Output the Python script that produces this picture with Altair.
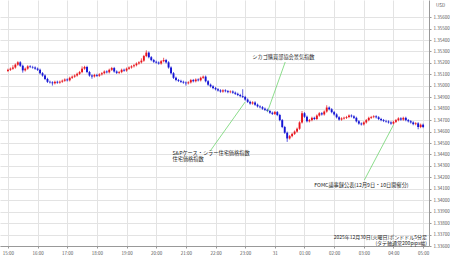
import altair as alt
import pandas as pd

# ---------------- data ----------------
hour_ticks = list(range(0, 15))          # hours after 15:00 (2025-12-30)
y_ticks = [round(1.336 + 0.001 * k, 3) for k in range(0, 21)]

open0 = 1.35130
closes = [
    1.35140, 1.35150, 1.35160, 1.35185, 1.35205, 1.35175, 1.35135, 1.35150, 1.35170, 1.35165,
    1.35160, 1.35150, 1.35140, 1.35110, 1.35090, 1.35060, 1.35035, 1.35030, 1.35022, 1.35035,
    1.35028, 1.35036, 1.35045, 1.35055, 1.35048, 1.35070, 1.35080, 1.35090, 1.35105, 1.35120,
    1.35150, 1.35165, 1.35120, 1.35090, 1.35082, 1.35095, 1.35088, 1.35100, 1.35110, 1.35125,
    1.35118, 1.35140, 1.35155, 1.35125, 1.35113, 1.35120, 1.35140, 1.35133, 1.35150, 1.35160,
    1.35170, 1.35180, 1.35195, 1.35205, 1.35220, 1.35260, 1.35290, 1.35250, 1.35225, 1.35210,
    1.35203, 1.35195, 1.35215, 1.35225, 1.35205, 1.35160, 1.35110, 1.35070, 1.35050, 1.35043,
    1.35035, 1.35028, 1.35022, 1.35030, 1.35050, 1.35040, 1.35055, 1.35048, 1.35070, 1.35080,
    1.35040, 1.35010, 1.34995, 1.34980, 1.34970, 1.34960, 1.34950, 1.34960, 1.34953, 1.34945,
    1.34950, 1.34940, 1.34930, 1.34920, 1.34910, 1.34903, 1.34880, 1.34860, 1.34845, 1.34855,
    1.34835, 1.34820, 1.34813, 1.34800, 1.34790, 1.34780, 1.34765, 1.34755, 1.34770, 1.34745,
    1.34700, 1.34640, 1.34590, 1.34540, 1.34560, 1.34580, 1.34600, 1.34625, 1.34680, 1.34760,
    1.34730, 1.34690, 1.34700, 1.34720, 1.34710, 1.34740, 1.34760, 1.34750, 1.34775, 1.34810,
    1.34795, 1.34770, 1.34750, 1.34725, 1.34705, 1.34715, 1.34720, 1.34727, 1.34740, 1.34733,
    1.34720, 1.34690, 1.34670, 1.34663, 1.34680, 1.34700, 1.34720, 1.34727, 1.34733, 1.34725,
    1.34710, 1.34700, 1.34693, 1.34688, 1.34680, 1.34670, 1.34685, 1.34700, 1.34715, 1.34705,
    1.34720, 1.34700, 1.34690, 1.34680, 1.34665, 1.34672, 1.34640, 1.34660, 1.34640,
]
wick_up = [
    1, 1, 2, 1, 1, 1, 1, 1, 1, 1,
    1, 1, 1, 1, 1, 1, 1, 1, 1, 1,
    1, 1, 1, 1, 1, 1, 1, 1, 1, 1,
    2, 1, 1, 1, 1, 1, 1, 1, 1, 1,
    1, 1, 1, 1, 1, 1, 1, 1, 1, 1,
    1, 1, 1, 1, 2, 1, 2, 1, 1, 1,
    1, 1, 1, 2, 1, 1, 1, 1, 1, 1,
    1, 1, 1, 1, 1, 1, 1, 1, 1, 1,
    1, 1, 1, 1, 1, 1, 1, 1, 1, 1,
    1, 1, 1, 1, 1, 6, 1, 1, 1, 1,
    1, 1, 1, 1, 1, 1, 1, 1, 1, 1,
    1, 1, 1, 1, 1, 1, 1, 1, 1, 2,
    1, 1, 1, 1, 1, 1, 1, 1, 1, 2,
    1, 1, 1, 1, 1, 1, 1, 1, 1, 1,
    1, 1, 1, 1, 1, 1, 1, 1, 1, 1,
    1, 1, 1, 1, 1, 1, 1, 1, 1, 1,
    1, 1, 1, 1, 1, 1, 1, 1, 1,
]
wick_dn = [
    1, 1, 1, 1, 1, 1, 2, 1, 1, 1,
    1, 1, 1, 1, 1, 1, 1, 1, 2, 1,
    1, 1, 1, 1, 1, 1, 1, 1, 1, 1,
    1, 1, 1, 1, 2, 1, 1, 1, 1, 1,
    1, 1, 1, 1, 1, 1, 1, 1, 1, 1,
    1, 1, 1, 1, 1, 1, 1, 1, 1, 1,
    1, 1, 1, 1, 1, 1, 1, 1, 1, 1,
    1, 1, 2, 1, 1, 1, 1, 1, 1, 1,
    1, 1, 1, 1, 1, 1, 1, 1, 1, 1,
    1, 1, 1, 1, 1, 1, 1, 1, 1, 1,
    1, 1, 1, 1, 1, 1, 1, 1, 1, 1,
    1, 1, 1, 3, 1, 1, 1, 1, 1, 1,
    1, 1, 1, 1, 1, 1, 1, 1, 1, 1,
    1, 1, 1, 1, 1, 1, 1, 1, 1, 1,
    1, 1, 1, 1, 1, 1, 1, 1, 1, 1,
    1, 1, 1, 1, 1, 1, 1, 1, 1, 1,
    1, 1, 1, 1, 1, 1, 2, 1, 1,
]

# annotations: event time (hours after 15:00), price at candle, label anchor
ann_x1 = [8.75, 8.0, 13.0]
ann_y1 = [1.34771, 1.34859, 1.34658]
ann_x2 = [9.35, 6.82, 12.02]
ann_y2 = [1.35208, 1.34430, 1.34177]

ann_text = ["シカゴ購買部協会景気指数", "S&Pケース・シラー住宅価格指数", "住宅価格指数",
            "FOMC議事録公表(12月9日・10日開催分)"]
ann_tx = [9.29, 5.55, 5.55, 11.92]
ann_ty = [1.35252, 1.34413, 1.34360, 1.34133]
ann_align = ["center", "left", "left", "center"]

footer = ["2025年12月30日(火曜日)ポンドドル5分足", "(タテ軸通常200pips幅)"]

# ---------------- build ----------------
rows = []
prev = open0
for i, c in enumerate(closes):
    o = prev
    hi = max(o, c) + wick_up[i] * 0.0001
    lo = min(o, c) - wick_dn[i] * 0.0001
    rows.append(dict(t=i / 12.0, o=o, c=c, hi=hi, lo=lo,
                     dir="up" if c >= o else "down"))
    prev = c
df = pd.DataFrame(rows)

FONT = "Noto Sans CJK JP"
xs = alt.Scale(domain=[-0.099, 14.03], nice=False, zero=False)
ys = alt.Scale(domain=[1.3360, 1.3575], nice=False, zero=False)
col = alt.Color("dir:N", scale=alt.Scale(domain=["up", "down"],
                                         range=["#e8141c", "#1414d4"]), legend=None)

label_expr = ("datum.value == 9 ? '31' : "
              "((15 + datum.value) % 24 < 10 ? '0' : '') + ((15 + datum.value) % 24) + ':00'")

AX = dict(labelFontSize=4.5, labelColor="#555555", tickSize=2, tickColor="#999999",
          domainColor="#999999", labelPadding=2, gridColor="#e3e3e3", labelFont=FONT,
          labelOverlap=False, labelFlush=False, title=None)
x_axis = alt.Axis(values=hour_ticks, labelExpr=label_expr, **AX)
y_axis = alt.Axis(values=y_ticks, format=".5f", orient="right", **AX)


def X(field):
    return alt.X(field, type="quantitative", scale=xs, axis=x_axis)


def Y(field):
    return alt.Y(field, type="quantitative", scale=ys, axis=y_axis)


base = alt.Chart(df)
wicks = base.mark_rule(strokeWidth=0.7).encode(
    x=X("t"), y=Y("lo"), y2="hi:Q", color=col)
bodies = base.mark_bar(size=1.9).encode(
    x=X("t"), y=Y("o"), y2="c:Q", color=col)

ann_df = pd.DataFrame(dict(x1=ann_x1, y1=ann_y1, x2=ann_x2, y2=ann_y2))
lines = alt.Chart(ann_df).mark_rule(color="#6fd46f", strokeWidth=0.8).encode(
    x=X("x1"), y=Y("y1"), x2="x2:Q", y2="y2:Q")

texts = []
for txt, tx, ty, al in zip(ann_text, ann_tx, ann_ty, ann_align):
    tdf = pd.DataFrame(dict(x=[tx], y=[ty], s=[txt]))
    texts.append(alt.Chart(tdf).mark_text(align=al, baseline="middle", fontSize=5.2,
                                          font=FONT, color="#222222").encode(
        x=X("x"), y=Y("y"), text="s:N"))

foot1 = alt.Chart(pd.DataFrame(dict(s=[footer[0]]))).mark_text(
    align="right", baseline="middle", fontSize=5.0, font=FONT, color="#222222").encode(
    x=alt.value(427), y=alt.value(237), text="s:N")
foot2 = alt.Chart(pd.DataFrame(dict(s=[footer[1]]))).mark_text(
    align="right", baseline="middle", fontSize=5.0, font=FONT, color="#222222").encode(
    x=alt.value(427), y=alt.value(243), text="s:N")

usd = alt.Chart(pd.DataFrame(dict(s=["USD"]))).mark_text(
    align="left", baseline="middle", fontSize=4.6, font=FONT, color="#555555").encode(
    x=alt.value(436), y=alt.value(6), text="s:N")

chart = alt.layer(wicks, bodies, lines, *texts, foot1, foot2, usd).properties(
    width=429, height=246,
    autosize=alt.AutoSizeParams(type="none"),
    padding={"left": 0, "top": 0, "right": 21, "bottom": 12},
    background="white",
).configure_view(strokeWidth=0)

chart.save("out.html", embed_options={"renderer": "svg", "actions": False})
